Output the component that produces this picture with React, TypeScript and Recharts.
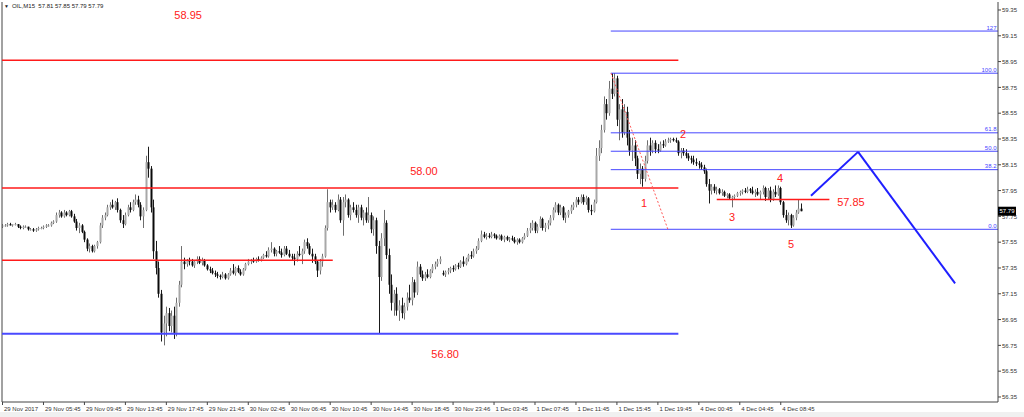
import React from 'react';
import { ComposedChart, Bar, XAxis, YAxis, ReferenceLine, ReferenceDot } from 'recharts';

// OIL M15 candles, [open, high, low, close]
const candles: number[][] = [
  [57.67,57.69,57.66,57.68],[57.68,57.69,57.67,57.68],[57.68,57.70,57.67,57.69],[57.69,57.70,57.68,57.68],
  [57.68,57.69,57.67,57.69],[57.69,57.70,57.68,57.69],[57.69,57.69,57.66,57.67],[57.67,57.68,57.65,57.66],
  [57.66,57.68,57.65,57.67],[57.67,57.68,57.66,57.67],[57.67,57.67,57.64,57.65],[57.65,57.66,57.64,57.65],
  [57.65,57.66,57.63,57.64],[57.64,57.66,57.63,57.65],[57.65,57.67,57.64,57.66],[57.66,57.67,57.65,57.66],
  [57.66,57.68,57.65,57.67],[57.67,57.69,57.66,57.68],[57.68,57.69,57.67,57.68],[57.68,57.71,57.67,57.70],
  [57.70,57.72,57.69,57.71],[57.71,57.78,57.70,57.76],[57.76,57.80,57.74,57.78],[57.78,57.79,57.74,57.75],
  [57.75,57.80,57.74,57.78],[57.78,57.79,57.75,57.76],[57.76,57.80,57.75,57.79],[57.79,57.80,57.74,57.75],
  [57.75,57.77,57.70,57.71],[57.71,57.73,57.64,57.66],[57.66,57.70,57.62,57.68],[57.68,57.69,57.62,57.63],
  [57.63,57.64,57.55,57.57],[57.57,57.58,57.48,57.50],[57.50,57.54,57.47,57.52],[57.52,57.53,57.47,57.48],
  [57.48,57.53,57.47,57.52],[57.52,57.56,57.50,57.55],[57.55,57.70,57.54,57.68],[57.68,57.76,57.66,57.74],
  [57.74,57.78,57.72,57.76],[57.76,57.84,57.75,57.82],[57.82,57.86,57.80,57.84],[57.84,57.88,57.81,57.82],
  [57.82,57.87,57.80,57.86],[57.86,57.89,57.78,57.80],[57.80,57.81,57.70,57.72],[57.72,57.76,57.66,57.69],
  [57.69,57.78,57.68,57.76],[57.76,57.84,57.75,57.82],[57.82,57.86,57.78,57.80],[57.80,57.88,57.79,57.86],
  [57.86,57.92,57.84,57.88],[57.88,57.91,57.82,57.84],[57.84,57.86,57.72,57.75],[57.75,57.82,57.66,57.80],
  [57.80,58.22,57.79,58.17],[58.17,58.29,58.05,58.12],[58.12,58.14,57.78,57.82],[57.82,57.88,57.42,57.48],
  [57.48,57.56,57.30,57.35],[57.35,57.40,57.12,57.15],[57.15,57.18,56.78,56.85],[56.85,56.98,56.75,56.92],
  [56.92,57.05,56.82,57.00],[57.00,57.04,56.86,56.90],[56.90,57.02,56.85,56.98],[56.98,57.05,56.80,56.84],
  [56.84,57.12,56.82,57.08],[57.08,57.25,57.05,57.22],[57.22,57.52,57.20,57.40],[57.40,57.43,57.34,57.38],
  [57.38,57.42,57.36,57.41],[57.41,57.43,57.37,57.40],[57.40,57.42,57.36,57.37],[57.37,57.41,57.35,57.40],
  [57.40,57.44,57.38,57.42],[57.42,57.44,57.38,57.39],[57.39,57.43,57.37,57.41],[57.41,57.42,57.36,57.37],
  [57.37,57.38,57.33,57.34],[57.34,57.36,57.31,57.33],[57.33,57.35,57.30,57.31],[57.31,57.33,57.28,57.30],
  [57.30,57.32,57.27,57.29],[57.29,57.30,57.26,57.28],[57.28,57.32,57.27,57.30],[57.30,57.31,57.26,57.27],
  [57.27,57.31,57.26,57.30],[57.30,57.35,57.29,57.33],[57.33,57.38,57.30,57.31],[57.31,57.36,57.29,57.35],
  [57.35,57.37,57.31,57.32],[57.32,57.34,57.29,57.30],[57.30,57.35,57.29,57.34],[57.34,57.39,57.33,57.38],
  [57.38,57.42,57.37,57.40],[57.40,57.42,57.38,57.41],[57.41,57.43,57.39,57.40],[57.40,57.43,57.39,57.42],
  [57.42,57.44,57.40,57.41],[57.41,57.44,57.40,57.43],[57.43,57.46,57.42,57.45],[57.45,57.48,57.43,57.44],
  [57.44,57.51,57.43,57.49],[57.49,57.55,57.47,57.50],[57.50,57.51,57.44,57.46],[57.46,57.49,57.44,57.48],
  [57.48,57.52,57.46,57.47],[57.47,57.50,57.43,57.45],[57.45,57.52,57.44,57.50],[57.50,57.52,57.45,57.46],
  [57.46,57.49,57.43,57.44],[57.44,57.46,57.41,57.43],[57.43,57.46,57.37,57.42],[57.42,57.48,57.40,57.46],
  [57.46,57.52,57.44,57.45],[57.45,57.50,57.38,57.48],[57.48,57.57,57.46,57.55],[57.55,57.58,57.50,57.52],
  [57.52,57.54,57.45,57.46],[57.46,57.50,57.39,57.44],[57.44,57.46,57.38,57.40],[57.40,57.41,57.28,57.33],
  [57.33,57.42,57.30,57.40],[57.40,57.46,57.36,57.44],[57.44,57.68,57.43,57.66],[57.66,57.96,57.64,57.86],
  [57.86,57.88,57.78,57.82],[57.82,57.88,57.80,57.84],[57.84,57.86,57.78,57.80],[57.80,57.92,57.79,57.88],
  [57.88,57.90,57.70,57.72],[57.72,57.90,57.60,57.86],[57.86,57.92,57.82,57.88],[57.88,57.89,57.74,57.76],
  [57.76,57.84,57.72,57.82],[57.82,57.86,57.78,57.80],[57.80,57.84,57.74,57.76],[57.76,57.84,57.70,57.82],
  [57.82,57.84,57.72,57.74],[57.74,57.80,57.68,57.78],[57.78,57.82,57.70,57.72],[57.72,57.90,57.70,57.76],
  [57.76,57.78,57.62,57.65],[57.65,57.75,57.60,57.72],[57.72,57.74,57.46,57.52],[57.52,57.56,56.84,57.28],
  [57.28,57.62,57.25,57.58],[57.58,57.80,57.52,57.70],[57.70,57.72,57.42,57.45],[57.45,57.50,57.15,57.22],
  [57.22,57.30,57.02,57.08],[57.08,57.18,56.98,57.15],[57.15,57.20,56.98,57.02],[57.02,57.10,56.94,57.06],
  [57.06,57.12,56.96,57.00],[57.00,57.08,56.95,57.05],[57.05,57.16,57.02,57.12],[57.12,57.22,57.08,57.10],
  [57.10,57.28,57.06,57.24],[57.24,57.26,57.12,57.16],[57.16,57.40,57.14,57.36],[57.36,57.38,57.28,57.30],
  [57.30,57.33,57.25,57.27],[57.27,57.32,57.25,57.30],[57.30,57.34,57.27,57.28],[57.28,57.34,57.27,57.33],
  [57.33,57.38,57.31,57.36],[57.36,57.40,57.34,57.38],[57.38,57.42,57.36,57.40],[57.40,57.44,57.38,57.42],
  [57.31,57.33,57.29,57.30],[57.30,57.33,57.28,57.32],[57.32,57.35,57.30,57.33],[57.33,57.36,57.31,57.35],
  [57.35,57.37,57.32,57.34],[57.34,57.38,57.33,57.37],[57.37,57.39,57.34,57.36],[57.36,57.41,57.35,57.40],
  [57.40,57.44,57.36,57.38],[57.38,57.43,57.37,57.42],[57.42,57.46,57.40,57.45],[57.45,57.48,57.42,57.44],
  [57.44,57.50,57.43,57.48],[57.48,57.52,57.46,57.50],[57.50,57.58,57.49,57.56],[57.56,57.64,57.55,57.61],
  [57.61,57.63,57.58,57.59],[57.59,57.62,57.57,57.60],[57.60,57.62,57.58,57.59],[57.59,57.63,57.58,57.61],
  [57.61,57.62,57.58,57.60],[57.60,57.61,57.57,57.58],[57.58,57.61,57.57,57.60],[57.60,57.61,57.56,57.57],
  [57.57,57.60,57.55,57.59],[57.59,57.60,57.56,57.57],[57.57,57.59,57.55,57.58],[57.58,57.60,57.56,57.57],
  [57.57,57.59,57.54,57.55],[57.55,57.58,57.53,57.57],[57.57,57.58,57.54,57.55],[57.55,57.59,57.54,57.58],
  [57.58,57.62,57.57,57.60],[57.60,57.66,57.59,57.64],[57.64,57.70,57.62,57.66],[57.66,57.72,57.64,57.70],
  [57.70,57.71,57.62,57.64],[57.64,57.69,57.62,57.67],[57.67,57.75,57.66,57.73],[57.73,57.74,57.64,57.66],
  [57.66,57.70,57.63,57.68],[57.68,57.72,57.65,57.70],[57.70,57.76,57.68,57.74],[57.74,57.82,57.72,57.80],
  [57.80,57.86,57.78,57.84],[57.84,57.85,57.76,57.78],[57.78,57.84,57.76,57.82],[57.82,57.83,57.72,57.74],
  [57.74,57.78,57.70,57.76],[57.76,57.80,57.74,57.79],[57.79,57.84,57.77,57.82],[57.82,57.86,57.80,57.84],
  [57.84,57.90,57.82,57.88],[57.88,57.90,57.84,57.86],[57.86,57.92,57.85,57.90],[57.90,57.92,57.84,57.86],
  [57.86,57.91,57.84,57.89],[57.89,57.90,57.78,57.80],[57.80,57.84,57.76,57.79],[57.79,57.88,57.78,57.86],
  [57.86,58.28,57.85,58.22],[58.22,58.34,58.18,58.28],[58.28,58.46,58.24,58.42],[58.42,58.68,58.40,58.62],
  [58.62,58.66,58.50,58.55],[58.55,58.80,58.53,58.74],[58.74,58.86,58.66,58.70],[58.70,58.86,58.68,58.82],
  [58.82,58.84,58.45,58.50],[58.50,58.62,58.34,58.58],[58.58,58.66,58.36,58.40],[58.40,58.62,58.38,58.56],
  [58.56,58.60,58.30,58.36],[58.36,58.42,58.22,58.26],[58.26,58.36,58.18,58.30],[58.30,58.34,58.14,58.20],
  [58.20,58.22,58.04,58.08],[58.08,58.16,58.00,58.12],[58.12,58.14,57.98,58.04],[58.04,58.22,58.02,58.18],
  [58.18,58.34,58.16,58.30],[58.30,58.36,58.22,58.26],[58.26,58.34,58.24,58.32],[58.32,58.34,58.24,58.27],
  [58.27,58.31,58.24,58.26],[58.26,58.33,58.25,58.31],[58.31,58.34,58.28,58.30],[58.30,58.35,58.29,58.33],
  [58.33,58.36,58.32,58.34],[58.34,58.36,58.32,58.35],[58.35,58.36,58.33,58.34],[58.34,58.36,58.32,58.33],
  [58.33,58.34,58.22,58.24],[58.24,58.28,58.20,58.26],[58.26,58.28,58.22,58.24],[58.24,58.27,58.20,58.22],
  [58.22,58.24,58.18,58.20],[58.20,58.22,58.16,58.19],[58.19,58.22,58.15,58.17],[58.17,58.20,58.14,58.16],
  [58.16,58.18,58.12,58.15],[58.15,58.17,58.11,58.13],[58.13,58.15,58.08,58.10],[58.10,58.12,57.98,58.00],
  [58.00,58.04,57.85,57.95],[57.95,58.00,57.92,57.98],[57.98,58.00,57.93,57.95],[57.95,57.98,57.92,57.96],
  [57.96,57.97,57.92,57.93],[57.93,57.96,57.91,57.94],[57.94,57.95,57.90,57.91],[57.91,57.93,57.89,57.92],
  [57.92,57.93,57.88,57.89],[57.89,57.91,57.82,57.90],[57.90,57.92,57.88,57.91],[57.91,57.94,57.90,57.93],
  [57.93,57.95,57.91,57.94],[57.94,57.96,57.92,57.95],[57.95,57.97,57.93,57.94],[57.94,57.98,57.93,57.96],
  [57.96,57.97,57.93,57.95],[57.95,57.98,57.92,57.93],[57.93,57.96,57.90,57.94],[57.94,57.97,57.91,57.92],
  [57.92,57.95,57.88,57.94],[57.94,57.99,57.92,57.97],[57.97,57.98,57.87,57.90],[57.90,57.97,57.88,57.95],
  [57.95,57.98,57.86,57.88],[57.88,57.96,57.87,57.94],[57.94,57.99,57.90,57.92],[57.92,57.99,57.91,57.97],
  [57.97,57.98,57.84,57.86],[57.86,57.87,57.74,57.76],[57.76,57.80,57.70,57.72],[57.72,57.78,57.68,57.76],
  [57.76,57.77,57.66,57.68],[57.68,57.76,57.67,57.74],[57.74,57.80,57.72,57.78],[57.78,57.88,57.77,57.81],
  [57.81,57.85,57.79,57.79],
];

const timeLabels = [
  '29 Nov 2017', '29 Nov 05:45', '29 Nov 09:45', '29 Nov 13:45', '29 Nov 17:45', '29 Nov 21:45',
  '30 Nov 02:45', '30 Nov 06:45', '30 Nov 10:45', '30 Nov 14:45', '30 Nov 18:45', '30 Nov 23:46',
  '1 Dec 03:45', '1 Dec 07:45', '1 Dec 11:45', '1 Dec 15:45', '1 Dec 19:45', '4 Dec 00:45',
  '4 Dec 04:45', '4 Dec 08:45',
];
const barsPerLabel = 16;

const priceTicks = [59.35, 59.15, 58.95, 58.75, 58.55, 58.35, 58.15, 57.95, 57.75, 57.55, 57.35, 57.15, 56.95, 56.75, 56.55, 56.35];
const lastPrice = 57.79;

// horizontal levels drawn by hand on the chart: price, first bar, last bar
const redLevels = [
  { p: 58.96, from: -0.2, to: 264 },
  { p: 57.97, from: -0.2, to: 264 },
  { p: 57.41, from: -0.2, to: 129 },
];
const supportLevel = { p: 56.84, from: -0.2, to: 264 };
const targetLevel = { p: 57.88, from: 279, to: 323 };

// fibonacci retracement from the swing high to the swing low
const fibHigh = 58.86;
const fibLow = 57.65;
const fibStart = 237.6;
const fibRatios = [127, 100, 61.8, 50, 38.2, 0];
const fibNames = ['127', '100.0', '61.8', '50.0', '38.2', '0.0'];

// projected path (bar index, price)
const projection = [
  { i: 315.8, p: 57.91 },
  { i: 334.2, p: 58.25 },
  { i: 372.1, p: 57.23 },
];
const swingLine = [
  { i: 237.7, p: 58.86 },
  { i: 260.0, p: 57.645 },
];

const priceNotes = [
  { t: '58.95', i: 72.5, p: 59.31 },
  { t: '58.00', i: 164.6, p: 58.10 },
  { t: '56.80', i: 172.9, p: 56.68 },
  { t: '57.85', i: 331.4, p: 57.862 },
  { t: '1', i: 250.6, p: 57.854 },
  { t: '2', i: 265.8, p: 58.39 },
  { t: '3', i: 285.0, p: 57.745 },
  { t: '4', i: 303.7, p: 58.048 },
  { t: '5', i: 308.0, p: 57.536 },
];

const xMin = -0.2;
const xMax = 388.86;
const yMin = 56.311;
const yMax = 59.412;

const data = candles.map(([o, h, l, c], i) => ({ i, o, h, l, c, range: [l, h] }));
const timeTicks = timeLabels.map((_, k) => k * barsPerLabel);

const FONT = '"Liberation Sans", Arial, sans-serif';

const Candle = (props: any) => {
  const { x, y, width, height, payload } = props;
  if (!payload || height == null) return null;
  const { o, h, l, c } = payload;
  const cx = Math.round(x + width / 2) + 0.5;
  const span = h - l;
  const toY = (v: number) => (span === 0 ? y : y + ((h - v) / span) * height);
  const bull = c >= o;
  const top = toY(Math.max(o, c));
  const bot = toY(Math.min(o, c));
  return (
    <g>
      <line x1={cx} x2={cx} y1={y} y2={y + height} stroke={bull ? '#6e6e6e' : '#1a1a1a'} strokeWidth={1} />
      <rect x={cx - 1} y={top} width={2} height={Math.max(bot - top, 1)} fill={bull ? '#a8a8a8' : '#0a0a0a'} />
    </g>
  );
};

const TimeTick = (props: any) => {
  const { x, y, payload } = props;
  const label = timeLabels[Math.round(payload.value / barsPerLabel)];
  return (
    <text x={x + 1.5} y={y + 4} fontSize={6} fill="#333" fontFamily={FONT}>
      {label}
    </text>
  );
};

const PriceTick = (props: any) => {
  const { x, y, payload } = props;
  const v = payload.value;
  if (v === lastPrice) {
    return (
      <g>
        <rect x={x - 4} y={y - 4.5} width={18} height={9} fill="#000" />
        <text x={x - 2.5} y={y + 2.2} fontSize={6} fill="#fff" fontFamily={FONT}>
          {v.toFixed(2)}
        </text>
      </g>
    );
  }
  return (
    <text x={x} y={y + 2.2} fontSize={6} fill="#333" fontFamily={FONT}>
      {v.toFixed(2)}
    </text>
  );
};

export default function App() {
  return (
    <div style={{ position: 'absolute', left: 0, top: 0, width: 1024, height: 417, background: '#fff', fontFamily: FONT }}>
      <div style={{ position: 'absolute', left: 0, top: 412, width: 1024, height: 5, background: '#f0f0f0' }} />
      <ComposedChart
        width={1024}
        height={417}
        data={data}
        margin={{ top: 2, right: 0, left: 2, bottom: 0 }}
      >
        <XAxis
          dataKey="i"
          type="number"
          domain={[xMin, xMax]}
          allowDataOverflow
          ticks={timeTicks}
          interval={0}
          tick={<TimeTick />}
          tickSize={3}
          height={15}
          stroke="#444"
        />
        <YAxis
          orientation="right"
          type="number"
          domain={[yMin, yMax]}
          allowDataOverflow
          ticks={[...priceTicks, lastPrice]}
          interval={0}
          tick={<PriceTick />}
          tickSize={3}
          tickMargin={1}
          width={26}
          stroke="#444"
        />
        <ReferenceLine x={xMin} stroke="#444" ifOverflow="extend" />

        {redLevels.map((lv, k) => (
          <ReferenceLine
            key={'r' + k}
            segment={[{ x: lv.from, y: lv.p }, { x: lv.to, y: lv.p }]}
            stroke="#ff1a1a"
            strokeWidth={1.5}
          />
        ))}
        <ReferenceLine
          segment={[{ x: supportLevel.from, y: supportLevel.p }, { x: supportLevel.to, y: supportLevel.p }]}
          stroke="#4a4aff"
          strokeWidth={2}
        />
        <ReferenceLine
          segment={[{ x: targetLevel.from, y: targetLevel.p }, { x: targetLevel.to, y: targetLevel.p }]}
          stroke="#ff1a1a"
          strokeWidth={1.5}
        />

        {fibRatios.map((r, k) => (
          <ReferenceLine
            key={'f' + k}
            segment={[
              { x: fibStart, y: fibLow + ((fibHigh - fibLow) * r) / 100 },
              { x: xMax, y: fibLow + ((fibHigh - fibLow) * r) / 100 },
            ]}
            stroke="#4646ff"
            strokeWidth={1}
            label={{ value: fibNames[k], position: 'insideBottomRight', offset: 1.5, fontSize: 6, fill: '#4646ff', fontFamily: FONT }}
          />
        ))}

        <ReferenceLine
          segment={[{ x: swingLine[0].i, y: swingLine[0].p }, { x: swingLine[1].i, y: swingLine[1].p }]}
          stroke="#ff5a5a"
          strokeWidth={1}
          strokeDasharray="2 2"
        />

        <Bar dataKey="range" barSize={2} shape={<Candle />} isAnimationActive={false} />

        {projection.slice(1).map((pt, k) => (
          <ReferenceLine
            key={'z' + k}
            segment={[{ x: projection[k].i, y: projection[k].p }, { x: pt.i, y: pt.p }]}
            stroke="#1f1fff"
            strokeWidth={2}
          />
        ))}

        {priceNotes.map((n, k) => (
          <ReferenceDot
            key={'n' + k}
            x={n.i}
            y={n.p}
            r={0}
            fill="none"
            stroke="none"
            label={{ value: n.t, position: 'center', fontSize: 11, fill: '#ff2020', fontFamily: FONT }}
          />
        ))}
      </ComposedChart>
      <div style={{ position: 'absolute', left: 4, top: 2, fontSize: 6, color: '#222', fontFamily: FONT, whiteSpace: 'nowrap', lineHeight: '8px' }}>
        <span style={{ fontSize: 5, marginRight: 3 }}>▼</span>OIL,M15&nbsp; 57.81 57.85 57.79 57.79
      </div>
    </div>
  );
}
